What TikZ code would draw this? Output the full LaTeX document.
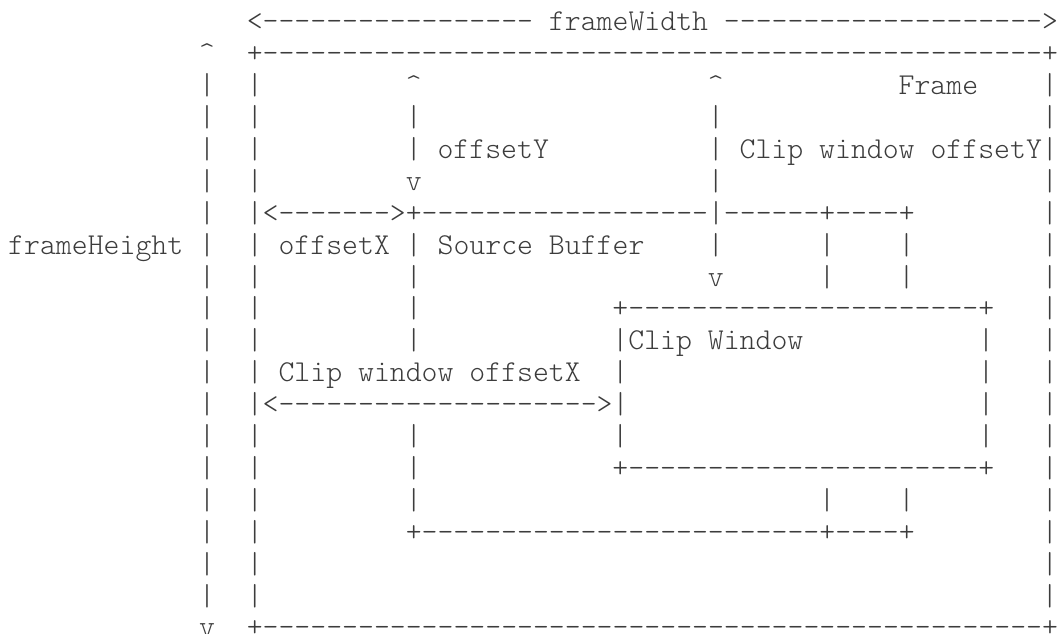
\documentclass[tikz,border=0pt]{standalone}
\usepackage{fontspec}
\definecolor{ink}{HTML}{3C3C3C}
\ExplSyntaxOn
\NewDocumentCommand\dashrun{m}{\prg_replicate:nn{#1}{-}}
\ExplSyntaxOff
\tikzset{
  cell/.style={anchor=base west, inner sep=0pt, outer sep=0pt,
    font=\ttfamily\fontseries{l}\fontsize{30.3}{36}\selectfont, text=ink}
}
% one text run starting at character column #2 of line #1
\newcommand\seg[3]{\node[cell] (r#1c#2) at ({8.25+15.9*#2},{-30.8-31.9*(#1-1)}) {#3};}
% single vertical bars on line #1 at the listed columns
\newcommand\bars[2]{\foreach \barcol in {#2}{\seg{#1}{\barcol}{|}}}
\begin{document}
\begin{tikzpicture}[x=1pt,y=1pt]
\fill[white] (0,0) rectangle (1058,-634);
\useasboundingbox (0,0) rectangle (1058,-634);
% line 1: frame width
\seg{1}{15}{<\dashrun{17} frameWidth \dashrun{20}>}
% line 2: top of frame
\seg{2}{12}{\textasciicircum}
\seg{2}{15}{+\dashrun{49}+}
% lines 3-6: offsets in Y
\bars{3}{12,15,65}
\seg{3}{25}{\textasciicircum}
\seg{3}{44}{\textasciicircum}
\seg{3}{56}{Frame}
\bars{4}{12,15,25,44,65}
\bars{5}{12,15}
\seg{5}{25}{| offsetY}
\seg{5}{44}{| Clip window offsetY|}
\bars{6}{12,15,44,65}
\seg{6}{25}{v}
% line 7: top of source buffer
\bars{7}{12,65}
\seg{7}{15}{|<\dashrun{7}>+\dashrun{18}|\dashrun{6}+\dashrun{4}+}
% line 8
\seg{8}{0}{frameHeight |}
\seg{8}{15}{| offsetX | Source Buffer}
\bars{8}{44,51,56,65}
\bars{9}{12,15,25,51,56,65}
\seg{9}{44}{v}
% lines 10-15: clip window
\bars{10}{12,15,25,65}
\seg{10}{38}{+\dashrun{22}+}
\bars{11}{12,15,25,61,65}
\seg{11}{38}{|Clip Window}
\bars{12}{12,38,61,65}
\seg{12}{15}{| Clip window offsetX}
\bars{13}{12,61,65}
\seg{13}{15}{|<\dashrun{20}>|}
\bars{14}{12,15,25,38,61,65}
\bars{15}{12,15,25,65}
\seg{15}{38}{+\dashrun{22}+}
% lines 16-17: bottom of source buffer
\bars{16}{12,15,25,51,56,65}
\bars{17}{12,15,65}
\seg{17}{25}{+\dashrun{25}+\dashrun{4}+}
% lines 18-20: bottom of frame
\bars{18}{12,15,65}
\bars{19}{12,15,65}
\seg{20}{12}{v}
\seg{20}{15}{+\dashrun{49}+}
\end{tikzpicture}
\end{document}
